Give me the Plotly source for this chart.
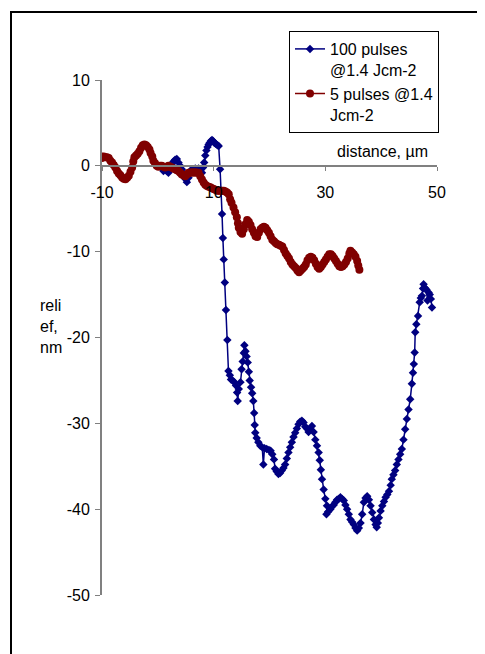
import plotly.graph_objects as go

# ---- data ----
blue_name = "100 pulses<br>@1.4 Jcm-2"
blue_x = [1.0, 1.3, 1.6, 1.9, 2.2, 2.5, 2.8, 3.1, 3.4, 3.7, 4.0, 4.3, 4.6, 4.9, 5.2, 5.5, 5.8, 6.1, 6.4, 6.7,
          7.0, 7.3, 7.6, 7.9, 8.1, 8.3, 8.5, 8.7, 8.9, 9.1, 9.3, 9.5, 9.7, 9.9, 10.1, 10.3, 10.5, 10.7, 10.9,
          11.15, 11.35, 11.5, 11.65, 11.8, 12.0, 12.2, 12.45, 12.65, 12.9, 13.1, 13.4, 13.7, 14.0, 14.2, 14.3,
          14.5, 14.8, 15.0, 15.2, 15.4, 15.5, 15.7, 15.9, 16.1, 16.3, 16.45, 16.7, 16.9, 17.1, 17.25, 17.35,
          17.45, 17.7, 18.0, 18.35, 18.7, 18.9, 19.1, 19.5, 19.9, 20.2, 20.5, 20.8, 21.0, 21.3, 21.6, 21.9,
          22.2, 22.5, 22.8, 23.1, 23.4, 23.7, 24.0, 24.3, 24.6, 24.9, 25.2, 25.5, 25.8, 26.1, 26.4, 26.7,
          27.0, 27.3, 27.6, 27.9, 28.2, 28.5, 28.8, 29.0, 29.2, 29.4, 29.7, 30.0, 30.3, 30.2, 30.5, 30.9,
          31.2, 31.5, 31.8, 32.1, 32.4, 32.7, 33.0, 33.3, 33.6, 33.9, 34.2, 34.5, 34.8, 35.1, 35.4, 35.7,
          36.0, 36.3, 36.6, 36.9, 37.2, 37.5, 37.8, 38.1, 38.4, 38.7, 39.0, 39.2, 39.4, 39.6, 39.9, 40.2,
          40.5, 40.8, 41.1, 41.4, 41.7, 41.9, 42.2, 42.5, 42.8, 43.1, 43.4, 43.7, 44.0, 44.3, 44.6, 44.9,
          45.2, 45.5, 45.7, 45.85, 46.0, 46.1, 46.3, 46.6, 46.9, 47.1, 47.3, 47.5, 47.6, 47.8, 48.1, 48.3,
          48.5, 48.7, 48.9, 49.1]
blue_y = [-0.6, -0.3, -0.6, -0.8, -0.3, 0.2, 0.5, 0.7, 0.8, 0.4, 0.0, -0.4, -0.9, -1.5, -1.9, -1.4, -0.8, -0.4, -0.4, -0.3,
          -0.4, -0.3, -0.5, -0.8, -0.2, 0.4, 1.2, 1.8, 2.2, 2.5, 2.7, 2.9, 3.0, 2.9, 2.7, 2.6, 2.5, 2.4, 2.3,
          -0.4, -2.9, -5.6, -8.4, -10.9, -13.6, -16.8, -20.3, -23.9, -24.4, -24.9, -25.0, -25.2, -25.6, -26.4, -27.4,
          -26.0, -25.2, -23.7, -22.8, -21.8, -20.9, -21.6, -22.2, -22.9, -24.0, -25.0, -25.8, -26.5, -27.4, -28.8, -30.2,
          -31.1, -31.7, -32.2, -32.6, -32.8, -34.8, -32.9, -33.0, -33.1, -33.2, -33.6, -34.2, -35.3, -35.6, -35.9, -35.8,
          -35.5, -35.2, -34.8, -34.1, -33.4, -32.8, -32.2, -31.6, -31.1, -30.6, -30.1, -29.8, -29.7, -29.9, -30.4, -30.6,
          -31.0, -30.7, -30.3, -31.0, -31.9, -32.6, -33.4, -34.3, -35.4, -36.5, -37.7, -38.8, -39.6, -40.6, -40.3, -40.0,
          -39.7, -39.5, -39.2, -38.9, -38.8, -38.6, -38.8, -39.0, -39.5, -40.0, -40.6, -41.2, -41.5, -41.8, -42.2, -42.5,
          -42.2, -41.6, -40.6, -39.2, -38.7, -38.5, -38.9, -39.6, -40.4, -41.2, -41.8, -42.1, -41.6, -41.0, -40.2, -39.6,
          -39.1, -38.6, -38.3, -37.9, -37.2, -36.5, -36.0, -35.5, -34.8, -34.2, -33.6, -33.0, -31.9, -30.7, -29.5, -28.4,
          -27.2, -25.4, -24.1, -23.1, -21.75, -19.4, -18.45, -17.5, -15.9, -15.4, -15.15, -14.3, -13.8, -14.2, -14.4, -15.7,
          -14.75, -15.0, -15.5, -16.5]

red_name = "5 pulses @1.4<br>Jcm-2"
red_x = [-10.0, -9.7, -9.4, -9.1, -8.8, -8.5, -8.2, -7.9, -7.6, -7.3, -7.0, -6.7, -6.4, -6.1, -5.8, -5.5, -5.2, -4.9,
         -4.6, -4.4, -4.2, -3.9, -3.6, -3.3, -3.0, -2.7, -2.4, -2.1, -1.8, -1.5, -1.3, -1.0, -0.8, -0.5, -0.2, 0.1,
         0.4, 0.7, 1.0, 1.3, 1.6, 1.9, 2.2, 2.5, 2.8, 3.1, 3.4, 3.7, 4.0, 4.3, 4.6, 4.9, 5.2, 5.5, 5.8, 6.1, 6.4,
         6.7, 7.0, 7.3, 7.6, 7.9, 8.2, 8.5, 8.8, 9.1, 9.4, 9.7, 10.0, 10.3, 10.6, 10.9, 11.2, 11.5, 11.8, 12.1,
         12.4, 12.7, 12.95, 13.2, 13.55, 13.85, 14.15, 14.35, 14.5, 14.8, 15.1, 15.4, 15.7, 16.0, 16.3, 16.6,
         16.9, 17.2, 17.5, 17.8, 18.1, 18.4, 18.7, 19.0, 19.3, 19.6, 19.9, 20.2, 20.5, 20.8, 21.1, 21.4, 21.7,
         22.0, 22.3, 22.6, 22.9, 23.2, 23.5, 23.8, 24.1, 24.4, 24.7, 25.0, 25.3, 25.6, 25.9, 26.2, 26.5, 26.8,
         27.1, 27.4, 27.7, 28.0, 28.3, 28.6, 28.9, 29.2, 29.5, 29.8, 30.1, 30.4, 30.7, 31.0, 31.3, 31.6, 31.9,
         32.2, 32.5, 32.8, 33.1, 33.4, 33.7, 34.0, 34.3, 34.5, 34.8, 35.1, 35.4, 35.7, 35.9, 36.1]
red_y = [0.9, 1.1, 1.0, 1.0, 0.9, 0.6, 0.4, 0.1, -0.2, -0.6, -0.9, -1.1, -1.35, -1.5, -1.55, -1.4, -1.15, -0.7,
         -0.2, 0.5, 1.0, 1.2, 1.4, 1.7, 2.1, 2.4, 2.5, 2.4, 2.2, 1.9, 1.5, 1.1, 0.6, 0.3, 0.0, -0.1,
         0.0, 0.0, -0.1, -0.2, -0.1, 0.0, -0.1, -0.2, -0.3, -0.4, -0.5, -0.6, -0.8, -1.0, -1.1, -1.2, -1.0, -0.8, -0.8, -0.75, -0.8,
         -0.75, -0.8, -0.8, -1.2, -1.6, -1.95, -2.2, -2.35, -2.45, -2.5, -2.6, -2.7, -2.8, -2.9, -2.9, -2.9, -2.9, -2.9, -3.0,
         -3.1, -3.3, -3.9, -4.3, -4.85, -5.4, -6.0, -6.7, -7.2, -7.7, -7.9, -7.4, -6.8, -6.3, -6.5, -6.9,
         -7.4, -7.8, -8.2, -8.3, -7.8, -7.4, -7.2, -7.1, -7.2, -7.5, -7.8, -8.2, -8.6, -8.8, -9.0, -9.15, -9.2,
         -9.3, -9.4, -9.8, -10.2, -10.5, -10.8, -11.2, -11.5, -11.7, -11.9, -12.2, -12.4, -12.2, -12.0, -11.8, -11.5, -11.0,
         -10.7, -10.6, -10.7, -11.0, -11.4, -11.8, -12.0, -11.8, -11.5, -11.2, -10.9, -10.6, -10.3, -10.3, -10.5, -10.8, -11.1,
         -11.4, -11.7, -11.8, -11.7, -11.5, -11.2, -10.8, -10.2, -9.9, -10.1, -10.3, -10.6, -11.1, -11.6, -12.1]

x_tickvals = [-10, 10, 30, 50]
x_ticktext = ["-10", "10", "30", "50"]
y_tickvals = [-50, -40, -30, -20, -10, 0, 10]
y_ticktext = ["-50", "-40", "-30", "-20", "-10", "0", "10"]
x_title = "distance, µm"
y_title = "reli<br>ef,<br>nm"

FONT = "Liberation Sans, Arial, sans-serif"
AXIS_GREY = "#808080"
FS = 16

# figure pixel geometry (page body adds an 8px offset)
W, H = 477, 646
L, R, T, B = 94, 48, 72, 59
PW, PH = W - L - R, H - T - B


def px(xp):
    return (xp - L) / PW


def py(yp):
    return (H - B - yp) / PH


fig = go.Figure()
fig.add_trace(go.Scatter(
    x=blue_x, y=blue_y, mode="lines+markers", name=blue_name,
    line=dict(color="#000080", width=1.5),
    marker=dict(symbol="diamond", size=6.5, color="#000080"),
))
fig.add_trace(go.Scatter(
    x=red_x, y=red_y, mode="lines+markers", name=red_name,
    line=dict(color="#800000", width=1.5),
    marker=dict(symbol="circle", size=8, color="#800000"),
))

fig.update_layout(
    width=W, height=H,
    margin=dict(l=L, r=R, t=T, b=B),
    paper_bgcolor="white", plot_bgcolor="white",
    font=dict(family=FONT, size=FS, color="black"),
    showlegend=True,
    legend=dict(
        x=px(281), y=py(23), xanchor="left", yanchor="top",
        bgcolor="white", bordercolor="black", borderwidth=1,
        font=dict(family=FONT, size=FS, color="black"),
        valign="top", tracegroupgap=2,
    ),
    xaxis=dict(
        range=[-10, 50], tickvals=x_tickvals, ticktext=x_ticktext,
        showgrid=False, zeroline=False,
        showline=True, linecolor=AXIS_GREY, linewidth=2,
        ticks="outside", ticklen=4, tickcolor=AXIS_GREY, tickwidth=1,
        anchor="free", position=50 / 60, ticklabelstandoff=8,
    ),
    yaxis=dict(
        range=[-50, 10], tickvals=y_tickvals, ticktext=y_ticktext,
        showgrid=False, zeroline=False,
        showline=True, linecolor=AXIS_GREY, linewidth=2,
        ticks="outside", ticklen=5, tickcolor=AXIS_GREY, tickwidth=1,
        ticklabelstandoff=2,
    ),
    annotations=[
        dict(text=x_title, xref="paper", yref="paper", x=px(422), y=py(143),
             xanchor="right", yanchor="middle", showarrow=False, font=dict(size=FS)),
        dict(text=y_title, xref="paper", yref="paper", x=px(30), y=py(318),
             xanchor="left", yanchor="middle", showarrow=False, align="left", font=dict(size=FS)),
    ],
    shapes=[
        dict(type="rect", xref="paper", yref="paper",
             x0=px(3), x1=px(495), y0=py(670), y1=py(4),
             line=dict(color="black", width=2), fillcolor="rgba(0,0,0,0)", layer="below"),
    ],
)

fig.write_html("out.html")
